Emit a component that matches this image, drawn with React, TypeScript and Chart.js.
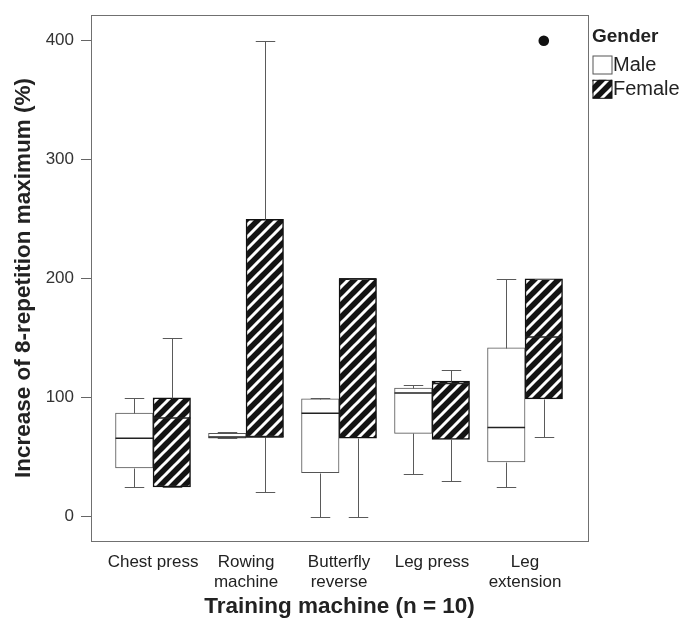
import React, { useEffect, useRef } from 'react';
import { Chart, registerables } from 'chart.js';

Chart.register(...registerables);

// ---- data ----
const categoryLabels: string[][] = [
  ['Chest press'],
  ['Rowing', 'machine'],
  ['Butterfly', 'reverse'],
  ['Leg press'],
  ['Leg', 'extension'],
];
const seriesNames = ['Male', 'Female'];
const legendTitle = 'Gender';
const xAxisTitle = 'Training machine (n = 10)';
const yAxisTitle = 'Increase of 8-repetition maximum (%)';
const yTickValues = [0, 100, 200, 300, 400];

const maleMin = [25, 66, 0, 36, 25];
const maleQ1 = [41, 66, 37, 70, 46];
const maleMedian = [66, 67, 87, 104, 75];
const maleQ3 = [87, 70, 99, 108, 142];
const maleMax = [100, 71, 100, 111, 200];
const maleOutliers: number[][] = [[], [], [], [], []];

const femaleMin = [25, 21, 0, 30, 67];
const femaleQ1 = [25, 67, 66, 65, 99];
const femaleMedian = [83, 67, 200, 112, 151];
const femaleQ3 = [100, 250, 200, 114, 200];
const femaleMax = [150, 400, 200, 123, 200];
const femaleOutliers: number[][] = [[], [], [], [], [400]];

const FONT = '"Liberation Sans", Arial, Helvetica, sans-serif';

function makeHatch(): CanvasPattern | string {
  const s = 12;
  const c = document.createElement('canvas');
  c.width = s;
  c.height = s;
  const g = c.getContext('2d');
  if (!g) return '#111';
  g.fillStyle = '#141414';
  g.fillRect(0, 0, s, s);
  g.strokeStyle = '#ffffff';
  g.lineWidth = 3;
  g.beginPath();
  for (const o of [-s, 0, s]) {
    g.moveTo(o - 1, s + 1);
    g.lineTo(o + s + 1, -1);
  }
  g.stroke();
  return g.createPattern(c, 'repeat') || '#111';
}

const stats = [
  { min: maleMin, q1: maleQ1, med: maleMedian, q3: maleQ3, max: maleMax, out: maleOutliers },
  { min: femaleMin, q1: femaleQ1, med: femaleMedian, q3: femaleQ3, max: femaleMax, out: femaleOutliers },
];

const boxExtras = {
  id: 'boxExtras',
  afterDatasetsDraw(chart: any) {
    const ctx = chart.ctx as CanvasRenderingContext2D;
    const ys = chart.scales.y;
    const { left, right, top, bottom } = chart.chartArea;
    const py = (v: number) => Math.round(ys.getPixelForValue(v)) + 0.5;
    stats.forEach((s, d) => {
      const meta = chart.getDatasetMeta(d);
      meta.data.forEach((bar: any, i: number) => {
        const { x, width } = bar.getProps(['x', 'width'], true);
        const cx = Math.round(x) + 0.5;
        const half = width / 2;
        const cap = half * 0.52;
        ctx.save();
        ctx.strokeStyle = '#5a5a5a';
        ctx.lineWidth = 1;
        ctx.beginPath();
        if (s.max[i] > s.q3[i]) {
          ctx.moveTo(cx, py(s.q3[i]));
          ctx.lineTo(cx, py(s.max[i]));
        }
        if (s.min[i] < s.q1[i]) {
          ctx.moveTo(cx, py(s.q1[i]));
          ctx.lineTo(cx, py(s.min[i]));
        }
        ctx.moveTo(cx - cap, py(s.max[i]));
        ctx.lineTo(cx + cap, py(s.max[i]));
        ctx.moveTo(cx - cap, py(s.min[i]));
        ctx.lineTo(cx + cap, py(s.min[i]));
        ctx.stroke();
        // median
        ctx.strokeStyle = '#222';
        ctx.lineWidth = 1.6;
        ctx.beginPath();
        const my = ys.getPixelForValue(s.med[i]);
        ctx.moveTo(x - half, my);
        ctx.lineTo(x + half, my);
        ctx.stroke();
        // outliers
        ctx.fillStyle = '#111';
        s.out[i].forEach((v) => {
          ctx.beginPath();
          ctx.arc(x, ys.getPixelForValue(v), 5.3, 0, Math.PI * 2);
          ctx.fill();
        });
        ctx.restore();
      });
    });
    // frame
    ctx.save();
    ctx.strokeStyle = '#707070';
    ctx.lineWidth = 1;
    ctx.strokeRect(Math.round(left) + 0.5, Math.round(top) + 0.5, Math.round(right - left), Math.round(bottom - top));
    ctx.restore();
  },
  afterDraw(chart: any) {
    const ctx = chart.ctx as CanvasRenderingContext2D;
    const x0 = chart.chartArea.right + 4.5;
    ctx.save();
    ctx.fillStyle = '#222';
    ctx.textBaseline = 'alphabetic';
    ctx.textAlign = 'left';
    ctx.font = `bold 19px ${FONT}`;
    ctx.fillText(legendTitle, x0 - 0.5, 33.7);
    ctx.font = `20px ${FONT}`;
    chart.data.datasets.forEach((ds: any, i: number) => {
      const top = 47.5 + i * 24.3;
      ctx.fillStyle = ds.backgroundColor;
      ctx.fillRect(x0, top, 19.5, 18.5);
      ctx.strokeStyle = i === 0 ? '#555' : '#111';
      ctx.lineWidth = 1;
      ctx.strokeRect(x0 + 0.5, top + 0.5, 19, 18);
      ctx.fillStyle = '#222';
      ctx.fillText(ds.label, x0 + 20.5, top + 15.6);
    });
    ctx.restore();
  },
};

export default function App() {
  const ref = useRef<HTMLCanvasElement | null>(null);
  useEffect(() => {
    if (!ref.current) return;
    const hatch = makeHatch();
    const chart = new Chart(ref.current, {
      type: 'bar',
      data: {
        datasets: [
          {
            label: seriesNames[0],
            data: maleQ1.map((q1, i) => ({ x: i + 1, y: [q1, maleQ3[i]] })) as any,
            backgroundColor: '#ffffff',
            borderColor: '#555',
            borderWidth: 1,
            borderSkipped: false,
            barThickness: 37.5,
          },
          {
            label: seriesNames[1],
            data: femaleQ1.map((q1, i) => ({ x: i + 1, y: [q1, femaleQ3[i]] })) as any,
            backgroundColor: hatch as any,
            borderColor: '#111',
            borderWidth: 1.5,
            borderSkipped: false,
            barThickness: 37.5,
          },
        ],
      },
      options: {
        animation: false,
        responsive: true,
        maintainAspectRatio: false,
        layout: { padding: { top: 7, right: 99, bottom: 0, left: 0 } },
        plugins: { legend: { display: false }, tooltip: { enabled: false } },
        scales: {
          x: {
            type: 'linear',
            offset: false,
            min: 0.333,
            max: 5.677,
            afterBuildTicks: (s: any) => {
              s.ticks = categoryLabels.map((_, i) => ({ value: i + 1 }));
            },
            afterFit: (s: any) => {
              s.height = 84;
              s.paddingLeft = 0;
              s.paddingRight = 0;
            },
            grid: { display: false, drawTicks: false },
            border: { display: false },
            ticks: {
              autoSkip: false,
              maxRotation: 0,
              padding: 11.5,
              color: '#222',
              font: { family: FONT, size: 17, lineHeight: '20px' as any },
              callback: (v: any) => categoryLabels[Math.round(v) - 1] || '',
            },
            title: {
              display: true,
              text: xAxisTitle,
              color: '#222',
              font: { family: FONT, size: 22.5, weight: 'bold' },
              padding: { top: 0, bottom: 4.8 },
            },
          },
          y: {
            type: 'linear',
            min: -20.4,
            max: 421.6,
            afterBuildTicks: (s: any) => {
              s.ticks = yTickValues.map((v) => ({ value: v }));
            },
            afterFit: (s: any) => {
              s.width = 83;
              s.paddingTop = 0;
              s.paddingBottom = 0;
            },
            grid: { drawOnChartArea: false, drawTicks: true, tickLength: 10, color: '#666' },
            border: { display: false },
            ticks: {
              padding: 7,
              color: '#333',
              font: { family: FONT, size: 17 },
              callback: (v: any) => String(v),
            },
            title: {
              display: true,
              text: yAxisTitle,
              color: '#222',
              font: { family: FONT, size: 22.5, weight: 'bold' },
              padding: { top: 2.5, bottom: 0 },
            },
          },
        },
      },
      plugins: [boxExtras],
    });
    return () => chart.destroy();
  }, []);
  return (
    <div style={{ position: 'relative', width: 679, height: 617 }}>
      <canvas ref={ref} />
    </div>
  );
}
